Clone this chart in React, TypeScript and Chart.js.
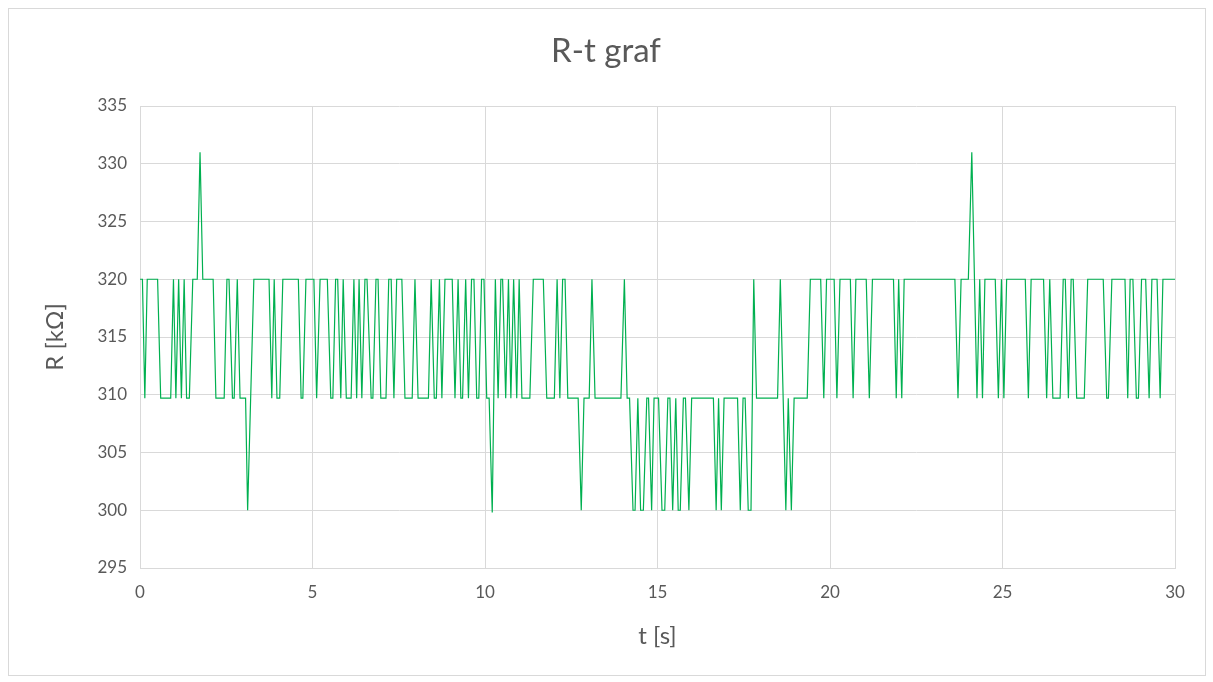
import React, { useEffect, useRef } from "react";
import { Chart, registerables } from "chart.js";

Chart.register(...registerables);

// Time stamps (s) of the vertices of the measured curve
const tSeconds = [
  0.0, 0.07, 0.14, 0.21, 0.51, 0.6, 0.89, 0.97, 1.04, 1.12, 1.2, 1.28, 1.35, 1.43, 1.53, 1.66, 1.74, 1.82, 2.12, 2.2,
  2.44, 2.52, 2.58, 2.68, 2.73, 2.82, 2.9, 3.06, 3.12, 3.3, 3.74, 3.82, 3.89, 3.97, 4.05, 4.14, 4.59, 4.67,
  4.72, 4.81, 5.04, 5.12, 5.22, 5.43, 5.53, 5.59, 5.67, 5.73, 5.82, 5.89, 5.98, 6.12, 6.2, 6.28, 6.35, 6.43, 6.52, 6.58, 6.7, 6.75, 6.84, 6.9, 6.98, 7.13, 7.21,
  7.28, 7.36, 7.44, 7.59, 7.68, 7.89, 7.97, 8.06, 8.36, 8.44, 8.53, 8.59, 8.68, 8.75, 8.84, 9.05, 9.13, 9.22, 9.3, 9.35, 9.44, 9.52, 9.61, 9.68,
  9.76, 9.82, 9.9, 9.97, 10.05, 10.12, 10.21, 10.3, 10.38, 10.46, 10.51, 10.6, 10.68, 10.75, 10.83, 10.92, 10.99, 11.07, 11.3, 11.4, 11.69, 11.79, 12.01, 12.09,
  12.17, 12.25, 12.32, 12.4, 12.7, 12.79, 12.87, 13.02, 13.1, 13.19, 13.94, 14.04, 14.12, 14.19, 14.29, 14.35, 14.43, 14.51, 14.59,
  14.69, 14.74, 14.83, 14.9, 15.03, 15.13, 15.21, 15.3, 15.36, 15.44, 15.53, 15.6, 15.66, 15.75, 15.81, 15.91, 15.99, 16.62, 16.7, 16.77, 16.85, 16.93,
  17.32, 17.4, 17.48, 17.54, 17.63, 17.71, 17.79, 17.87, 18.48, 18.56, 18.72, 18.79, 18.88, 18.96, 19.34, 19.43,
  19.73, 19.82, 19.9, 20.12, 20.2, 20.29, 20.59, 20.67, 20.75, 21.05, 21.14, 21.23, 21.84, 21.92, 21.99,
  22.08, 22.15, 23.62, 23.71, 23.8, 24.01, 24.11, 24.26, 24.34, 24.42, 24.49,
  24.79, 24.88, 24.97, 25.04, 25.12, 25.66, 25.75, 25.83, 26.19, 26.28, 26.37, 26.46, 26.67, 26.76, 26.82, 26.91, 26.99, 27.05, 27.15,
  27.37, 27.47, 27.92, 28.02, 28.07, 28.17, 28.55, 28.63, 28.7, 28.78, 28.88, 28.94, 29.03, 29.15, 29.25, 29.33, 29.48, 29.57, 29.65, 30.0,
];

// Resistance (kΩ) at those vertices
const rKOhm = [
  320, 320, 309.7, 320, 320, 309.7, 309.7, 320, 309.7, 320, 309.7, 320, 309.7, 309.7, 320, 320, 331, 320, 320, 309.7,
  309.7, 320, 320, 309.7, 309.7, 320, 309.7, 309.7, 300, 320, 320, 309.7, 320, 309.7, 309.7, 320, 320, 309.7,
  309.7, 320, 320, 309.7, 320, 320, 309.7, 309.7, 320, 320, 309.7, 320, 309.7, 309.7, 320, 309.7, 320, 309.7, 320, 320, 309.7, 309.7, 320, 320, 309.7, 309.7, 320,
  320, 309.7, 320, 320, 309.7, 309.7, 320, 309.7, 309.7, 320, 309.7, 309.7, 320, 309.7, 320, 320, 309.7, 320, 309.7, 309.7, 320, 309.7, 320, 320,
  309.7, 309.7, 320, 320, 309.7, 309.7, 299.8, 320, 309.7, 320, 320, 309.7, 320, 309.7, 320, 309.7, 320, 309.7, 309.7, 320, 320, 309.7, 309.7, 320,
  309.7, 320, 320, 309.7, 309.7, 300, 309.7, 309.7, 320, 309.7, 309.7, 320, 309.7, 309.7, 300, 300, 309.7, 300, 300,
  309.7, 309.7, 300, 309.7, 309.7, 300, 300, 309.7, 309.7, 300, 309.7, 300, 300, 309.7, 309.7, 300, 309.7, 309.7, 300, 309.7, 300, 309.7,
  309.7, 300, 309.7, 309.7, 300, 300, 320, 309.7, 309.7, 320, 300, 309.7, 300, 309.7, 309.7, 320,
  320, 309.7, 320, 320, 309.7, 320, 320, 309.7, 320, 320, 309.7, 320, 320, 309.7, 320,
  309.7, 320, 320, 309.7, 320, 320, 331, 309.7, 320, 309.7, 320,
  320, 309.7, 320, 309.7, 320, 320, 309.7, 320, 320, 309.7, 320, 309.7, 309.7, 320, 320, 309.7, 320, 320, 309.7,
  309.7, 320, 320, 309.7, 309.7, 320, 320, 309.7, 320, 320, 309.7, 309.7, 320, 320, 309.7, 320, 320, 309.7, 320, 320,
];

const chartTitle = "R-t graf";
const xAxisTitle = "t [s]";
const yAxisTitle = "R [kΩ]";
const xMin = 0;
const xMax = 30;
const xStep = 5;
const yMin = 295;
const yMax = 335;
const yStep = 5;

const FONT = "Lato, 'Open Sans', sans-serif";
const TEXT = "#595959";
const GRID = "#d9d9d9";

export default function App() {
  const ref = useRef<HTMLCanvasElement | null>(null);

  useEffect(() => {
    if (!ref.current) return;
    const points = tSeconds.map((t, i) => ({ x: t, y: rKOhm[i] }));
    const chart = new Chart(ref.current, {
      type: "line",
      data: {
        datasets: [
          {
            data: points,
            borderColor: "#00b050",
            borderWidth: 1.2,
            pointRadius: 0,
            tension: 0,
            fill: false,
          },
        ],
      },
      options: {
        animation: false,
        responsive: false,
        devicePixelRatio: 1,
        layout: { padding: { left: 37, right: 38, top: 0, bottom: 27 } },
        plugins: {
          legend: { display: false },
          tooltip: { enabled: false },
          title: {
            display: true,
            text: chartTitle,
            color: TEXT,
            font: { family: FONT, size: 33, weight: "normal" },
            padding: { top: 32, bottom: 34.4 },
          },
        },
        scales: {
          x: {
            type: "linear",
            min: xMin,
            max: xMax,
            afterFit: (s: any) => {
              s.height = 87;
            },
            ticks: {
              stepSize: xStep,
              color: TEXT,
              padding: 14,
              font: { family: FONT, size: 17 },
            },
            grid: { color: GRID, lineWidth: 1, drawTicks: false },
            border: { display: true, color: GRID },
            title: {
              display: true,
              text: xAxisTitle,
              color: TEXT,
              font: { family: FONT, size: 24 },
            },
          },
          y: {
            type: "linear",
            min: yMin,
            max: yMax,
            afterFit: (s: any) => {
              s.width = 103;
            },
            ticks: {
              stepSize: yStep,
              color: TEXT,
              padding: 13,
              font: { family: FONT, size: 17 },
            },
            grid: { color: GRID, lineWidth: 1, drawTicks: false },
            border: { display: true, color: GRID },
            title: {
              display: true,
              text: yAxisTitle,
              color: TEXT,
              font: { family: FONT, size: 24 },
            },
          },
        },
      },
    });
    return () => chart.destroy();
  }, []);

  return (
    <div style={{ position: "fixed", left: 0, top: 0, width: 1213, height: 682, background: "#fff" }}>
      <canvas ref={ref} width={1213} height={682} style={{ display: "block" }} />
      <div
        style={{
          position: "absolute",
          left: 8,
          top: 8,
          width: 1196,
          height: 666,
          border: "1px solid #d9d9d9",
          pointerEvents: "none",
        }}
      />
    </div>
  );
}
